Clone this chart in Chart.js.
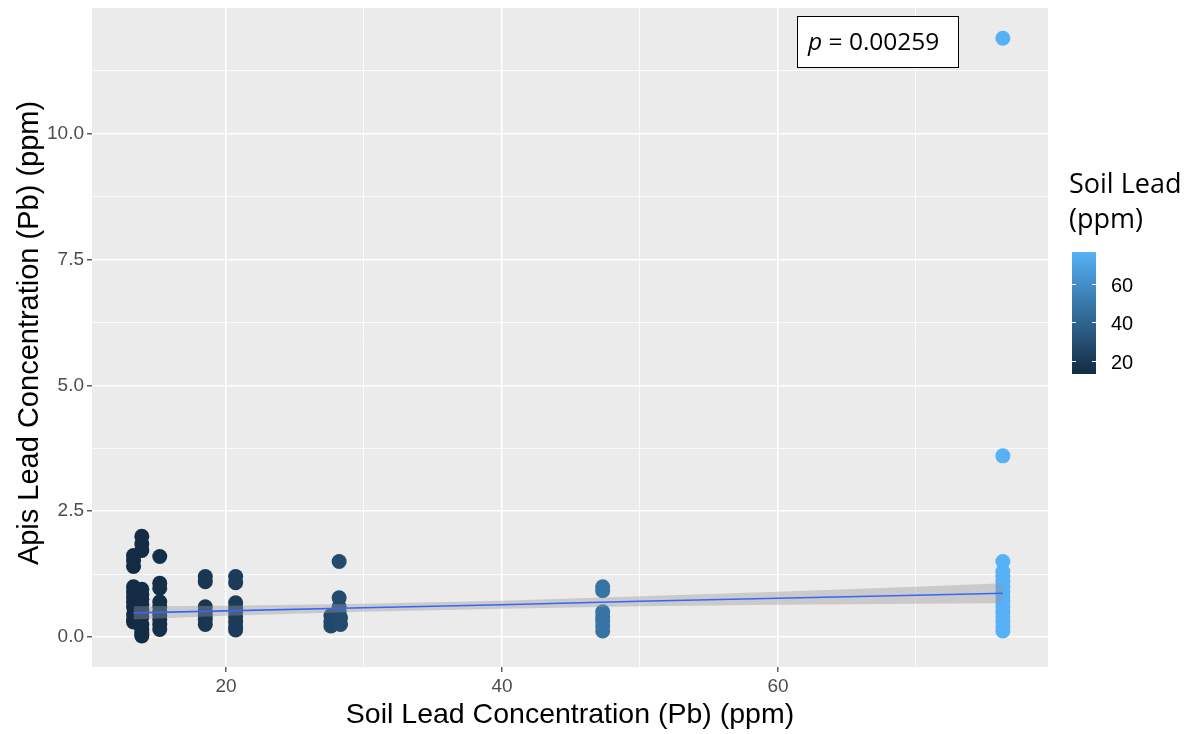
<!DOCTYPE html>
<html>
<head>
<meta charset="utf-8">
<script src="https://cdn.jsdelivr.net/npm/chart.js@4.4.1/dist/chart.umd.min.js"></script>
<style>
  html, body { margin: 0; padding: 0; background: #fff; }
</style>
</head>
<body>
<canvas id="chart" width="1198" height="734"></canvas>
<script>
// soil lead (x) and Apis lead (y), one entry per sample
const soilLead = [
  13.9, 13.9, 13.9, 13.3, 13.3, 13.3,
  13.3, 13.3, 13.3, 13.3, 13.3, 13.3, 13.3, 13.3,
  13.9, 13.9, 13.9, 13.9, 13.9, 13.9, 13.9, 13.9, 13.9, 13.9, 13.9, 13.9,
  15.2, 15.2, 15.2, 15.2, 15.2, 15.2, 15.2, 15.2, 15.2, 15.2,
  18.5, 18.5, 18.5, 18.5, 18.5, 18.5, 18.5,
  20.7, 20.7, 20.7, 20.7, 20.7, 20.7, 20.7, 20.7, 20.7,
  28.2, 28.2, 28.2, 28.2, 27.6, 27.6, 27.6, 28.3, 28.3,
  47.3, 47.3, 47.3, 47.3, 47.3, 47.3, 47.3,
  76.3, 76.3, 76.3, 76.3, 76.3, 76.3, 76.3, 76.3, 76.3, 76.3, 76.3, 76.3, 76.3, 76.3, 76.3, 76.3
];
const apisLead = [
  2.0, 1.85, 1.72, 1.62, 1.52, 1.4,
  1.0, 0.9, 0.8, 0.7, 0.6, 0.45, 0.35, 0.3,
  0.95, 0.85, 0.75, 0.65, 0.55, 0.5, 0.4, 0.25, 0.15, 0.1, 0.05, 0.02,
  1.6, 1.07, 0.97, 0.7, 0.6, 0.5, 0.42, 0.35, 0.25, 0.15,
  1.2, 1.1, 0.6, 0.5, 0.42, 0.35, 0.25,
  1.2, 1.08, 0.68, 0.58, 0.5, 0.4, 0.3, 0.2, 0.14,
  1.5, 0.78, 0.6, 0.5, 0.42, 0.3, 0.22, 0.38, 0.25,
  1.0, 0.92, 0.5, 0.4, 0.32, 0.22, 0.12,
  11.9, 3.6, 1.5, 1.3, 1.2, 1.1, 1.0, 0.9, 0.8, 0.7, 0.6, 0.5, 0.4, 0.3, 0.2, 0.12
];

// linear fit with its confidence band
const fitX = [13.3, 20, 30, 40, 50, 60, 70, 76.3];
const fitY = [0.48, 0.52, 0.58, 0.64, 0.71, 0.77, 0.83, 0.87];
const bandLow = [0.35, 0.42, 0.50, 0.56, 0.61, 0.64, 0.66, 0.67];
const bandHigh = [0.61, 0.62, 0.66, 0.72, 0.81, 0.90, 1.00, 1.07];

const xTicks = [20, 40, 60];
const xMinor = [30, 50, 70];
const yTicks = [0, 2.5, 5, 7.5, 10];
const yMinor = [1.25, 3.75, 6.25, 8.75, 11.25];
const legendTicks = [20, 40, 60];

const soilMin = 13.3, soilMax = 76.3;
const lowCol = [19, 43, 67], highCol = [86, 177, 247];

function soilColor(v) {
  const t = Math.min(1, Math.max(0, (v - soilMin) / (soilMax - soilMin)));
  const c = lowCol.map((l, i) => Math.round(l + (highCol[i] - l) * t));
  return 'rgb(' + c.join(',') + ')';
}

const points = soilLead.map((x, i) => ({ x: x, y: apisLead[i] }));

const panel = {
  id: 'panel',
  beforeDraw(chart) {
    const { ctx, chartArea: a } = chart;
    ctx.save();
    ctx.fillStyle = '#EBEBEB';
    ctx.fillRect(a.left, a.top, a.right - a.left, a.bottom - a.top);
    ctx.restore();
  },
  afterDraw(chart) {
    const { ctx, chartArea: a } = chart;
    ctx.save();
    // axis titles
    ctx.fillStyle = '#000';
    ctx.font = '28.5px "Liberation Sans", Arial, sans-serif';
    ctx.textAlign = 'center';
    ctx.textBaseline = 'alphabetic';
    ctx.fillText('Soil Lead Concentration (Pb) (ppm)', (a.left + a.right) / 2, 723);
    ctx.font = '29px "Liberation Sans", Arial, sans-serif';
    ctx.translate(38, 333);
    ctx.rotate(-Math.PI / 2);
    ctx.fillText('Apis Lead Concentration (Pb) (ppm)', 0, 0);
    ctx.restore();

    // p-value box
    ctx.save();
    ctx.fillStyle = '#fff';
    ctx.fillRect(797, 16, 161, 51);
    ctx.strokeStyle = '#000';
    ctx.lineWidth = 1;
    ctx.strokeRect(797.5, 16.5, 161, 51);
    ctx.fillStyle = '#000';
    ctx.textBaseline = 'alphabetic';
    ctx.textAlign = 'left';
    ctx.font = 'italic 24.5px "Open Sans", sans-serif';
    ctx.fillText('p', 808, 50);
    const pw = ctx.measureText('p').width;
    ctx.font = '24.5px "Open Sans", sans-serif';
    ctx.fillText(' = 0.00259', 808 + pw, 50);
    ctx.restore();

    // colour bar legend
    ctx.save();
    ctx.fillStyle = '#000';
    ctx.font = '27px "Open Sans", sans-serif';
    ctx.textAlign = 'left';
    ctx.fillText('Soil Lead', 1069, 193);
    ctx.fillText('(ppm)', 1069, 228);
    const barL = 1072, barR = 1096, barTop = 252, barBot = 374;
    const g = ctx.createLinearGradient(0, barBot, 0, barTop);
    g.addColorStop(0, soilColor(soilMin));
    g.addColorStop(0.5, soilColor((soilMin + soilMax) / 2));
    g.addColorStop(1, soilColor(soilMax));
    ctx.fillStyle = g;
    ctx.fillRect(barL, barTop, barR - barL, barBot - barTop);
    ctx.strokeStyle = '#fff';
    ctx.lineWidth = 1;
    ctx.font = '20px "Liberation Sans", Arial, sans-serif';
    ctx.textBaseline = 'middle';
    legendTicks.forEach(v => {
      const y = Math.round(barBot - (v - soilMin) / (soilMax - soilMin) * (barBot - barTop)) + 0.5;
      ctx.beginPath();
      ctx.moveTo(barL, y); ctx.lineTo(barL + 4, y);
      ctx.moveTo(barR - 4, y); ctx.lineTo(barR, y);
      ctx.stroke();
      ctx.fillStyle = '#000';
      ctx.fillText(String(v), 1111, y + 2);
    });
    ctx.restore();
  }
};

function isMajor(list, v) {
  return list.some(t => Math.abs(t - v) < 1e-6);
}

function noPad(s) {
  s.paddingTop = 0;
  s.paddingBottom = 0;
  s.paddingLeft = 0;
  s.paddingRight = 0;
}

new Chart(document.getElementById('chart'), {
  type: 'scatter',
  data: {
    datasets: [
      {
        type: 'line',
        data: fitX.map((x, i) => ({ x: x, y: fitY[i] })),
        borderColor: '#3366FF',
        borderWidth: 1.6,
        pointRadius: 0,
        fill: false,
        order: 1
      },
      {
        type: 'line',
        data: fitX.map((x, i) => ({ x: x, y: bandLow[i] })),
        borderWidth: 0,
        pointRadius: 0,
        fill: false,
        order: 2
      },
      {
        type: 'line',
        data: fitX.map((x, i) => ({ x: x, y: bandHigh[i] })),
        borderWidth: 0,
        pointRadius: 0,
        backgroundColor: 'rgba(153,153,153,0.4)',
        fill: '-1',
        order: 2
      },
      {
        data: points,
        pointRadius: 7.5,
        pointBorderWidth: 0,
        pointBackgroundColor: ctx => soilColor(ctx.raw ? ctx.raw.x : soilMin),
        order: 3
      }
    ]
  },
  options: {
    responsive: false,
    animation: false,
    layout: { padding: { top: 8, right: 150, left: 0, bottom: 0 } },
    plugins: {
      legend: { display: false },
      tooltip: { enabled: false }
    },
    scales: {
      x: {
        type: 'linear',
        min: 10.29,
        max: 79.57,
        afterBuildTicks: s => { s.ticks = xTicks.concat(xMinor).map(v => ({ value: v })); },
        afterFit: s => { s.height = 67; noPad(s); },
        border: { display: false },
        grid: {
          color: '#FFFFFF',
          lineWidth: c => isMajor(xTicks, c.tick.value) ? 1.6 : 0.8,
          tickColor: c => isMajor(xTicks, c.tick.value) ? '#333333' : 'rgba(0,0,0,0)',
          tickLength: 5,
          tickWidth: 1.2
        },
        ticks: {
          autoSkip: false,
          maxRotation: 0,
          padding: 3,
          color: '#4D4D4D',
          font: { family: '"Liberation Sans", Arial, sans-serif', size: 19 },
          callback: v => isMajor(xTicks, v) ? String(v) : ''
        }
      },
      y: {
        type: 'linear',
        min: -0.596,
        max: 12.5,
        afterBuildTicks: s => { s.ticks = yTicks.concat(yMinor).map(v => ({ value: v })); },
        afterFit: s => { s.width = 92; noPad(s); },
        border: { display: false },
        grid: {
          color: '#FFFFFF',
          lineWidth: c => isMajor(yTicks, c.tick.value) ? 1.6 : 0.8,
          tickColor: c => isMajor(yTicks, c.tick.value) ? '#333333' : 'rgba(0,0,0,0)',
          tickLength: 5,
          tickWidth: 1.2
        },
        ticks: {
          autoSkip: false,
          padding: 3,
          color: '#4D4D4D',
          font: { family: '"Liberation Sans", Arial, sans-serif', size: 19 },
          callback: v => isMajor(yTicks, v) ? v.toFixed(1) : ''
        }
      }
    }
  },
  plugins: [panel]
});
</script>
</body>
</html>
